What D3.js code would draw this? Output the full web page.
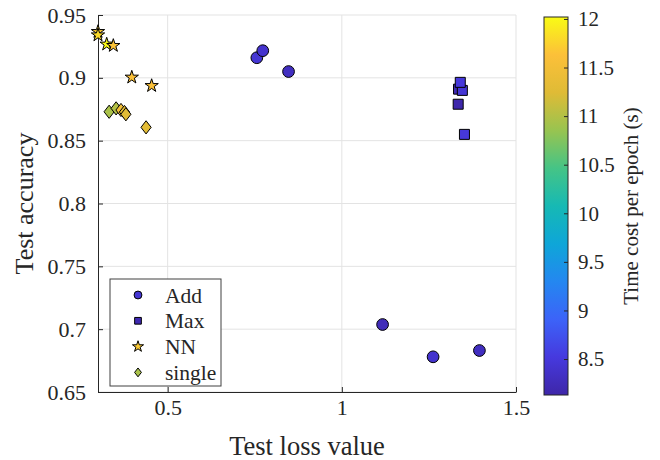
<!DOCTYPE html>
<html>
<head>
<meta charset="utf-8">
<script src="https://cdn.jsdelivr.net/npm/d3@7"></script>
<style>
  body { margin: 0; background: #fff; }
  svg text { font-family: "Liberation Serif", "Times New Roman", serif !important; fill: #262626; }
</style>
</head>
<body>
<div id="viz"></div>
<script>
const width = 660;
const height = 460;
const margin = {top: 15, right: 144, bottom: 68, left: 98};
const serif = '"Liberation Serif", "Times New Roman", serif';

// data: test loss, test accuracy, time per epoch (s)
const addLoss = [0.756, 0.773, 0.847, 1.117, 1.262, 1.395];
const addAcc  = [0.916, 0.9216, 0.905, 0.7037, 0.678, 0.683];
const addTime = [8.45, 8.4, 8.3, 8.25, 8.4, 8.3];

const maxLoss = [1.335, 1.346, 1.340, 1.334, 1.352];
const maxAcc  = [0.891, 0.890, 0.8964, 0.879, 0.855];
const maxTime = [8.2, 8.45, 8.5, 8.15, 8.5];

const nnLoss = [0.300, 0.300, 0.325, 0.344, 0.397, 0.454];
const nnAcc  = [0.9367, 0.934, 0.9267, 0.9256, 0.9004, 0.8937];
const nnTime = [11.7, 11.8, 12.0, 11.65, 11.6, 11.6];

const singleLoss = [0.332, 0.352, 0.366, 0.376, 0.380, 0.438];
const singleAcc  = [0.873, 0.8757, 0.8744, 0.8728, 0.871, 0.8606];
const singleTime = [10.95, 11.0, 11.5, 11.3, 11.25, 11.3];

const seriesNames = ['Add', 'Max', 'NN', 'single'];
const xTicks = [0.5, 1, 1.5];
const yTicks = [0.65, 0.7, 0.75, 0.8, 0.85, 0.9, 0.95];
const cTicks = [8.5, 9, 9.5, 10, 10.5, 11, 11.5, 12];
const timeRange = [8.13, 12.02];

// old-style parula stops
const parulaStops = ['#3e26a8', '#4639de', '#3c63f8', '#2487f0', '#0ea6d8',
                     '#16b9b4', '#45c486', '#98c450', '#dfbb36', '#fcc039', '#f9fb15'];
const parula = d3.scaleLinear()
  .domain(d3.range(parulaStops.length).map(i => i / (parulaStops.length - 1)))
  .range(parulaStops)
  .interpolate(d3.interpolateRgb);
const colorScale = t => parula((t - timeRange[0]) / (timeRange[1] - timeRange[0]));

// diamond = square turned 45deg, then stretched a bit vertically
const shapeTransform = name => name === 'single' ? ' scale(0.85,1.1) rotate(45)' : '';
const series = [
  {name: seriesNames[0], shape: d3.symbolCircle, size: 108, loss: addLoss, acc: addAcc, time: addTime},
  {name: seriesNames[1], shape: d3.symbolSquare, size: 100, loss: maxLoss, acc: maxAcc, time: maxTime},
  {name: seriesNames[2], shape: d3.symbolStar, size: 55, loss: nnLoss, acc: nnAcc, time: nnTime},
  {name: seriesNames[3], shape: d3.symbolSquare, size: 72, loss: singleLoss, acc: singleAcc, time: singleTime}
];

const points = [];
series.forEach(s => {
  s.loss.forEach((v, i) => points.push({series: s, loss: v, acc: s.acc[i], time: s.time[i]}));
});

const svg = d3.select('#viz')
  .append('svg')
    .attr('width', width)
    .attr('height', height)
    .attr('font-family', serif);

const xScale = d3.scaleLinear()
  .domain([0.3, 1.5])
  .range([margin.left, 516]);
const yScale = d3.scaleLinear()
  .domain([0.65, 0.95])
  .range([392, margin.top]);

// grid
svg.append('g')
  .selectAll('line')
  .data(xTicks)
  .join('line')
    .attr('x1', d => xScale(d)).attr('x2', d => xScale(d))
    .attr('y1', yScale(0.65)).attr('y2', yScale(0.95))
    .attr('stroke', '#e3e3e3');
svg.append('g')
  .selectAll('line')
  .data(yTicks)
  .join('line')
    .attr('x1', xScale(0.3)).attr('x2', xScale(1.5))
    .attr('y1', d => yScale(d)).attr('y2', d => yScale(d))
    .attr('stroke', '#e3e3e3');

// axes (MATLAB style: ticks inside)
const xAxis = d3.axisBottom(xScale).tickValues(xTicks).tickSizeInner(-5).tickSizeOuter(0)
  .tickPadding(20).tickFormat(d3.format('~g'));
const xAxisGroup = svg.append('g')
  .attr('transform', `translate(0,${yScale(0.65)})`)
  .call(xAxis);
const yAxis = d3.axisLeft(yScale).tickValues(yTicks).tickSizeInner(-5).tickSizeOuter(0)
  .tickPadding(12).tickFormat(d3.format('~g'));
const yAxisGroup = svg.append('g')
  .attr('transform', `translate(${xScale(0.3)},0)`)
  .call(yAxis);
[xAxisGroup, yAxisGroup].forEach(g => {
  g.attr('font-family', serif);
  g.select('.domain').attr('stroke', '#262626');
  g.selectAll('.tick line').attr('stroke', '#262626');
  g.selectAll('.tick text')
    .style('font-family', serif)
    .style('font-size', '22px')
    .attr('fill', '#262626');
});
xAxisGroup.selectAll('.tick text').attr('dy', '0.15em');

// axis titles
svg.append('text')
  .attr('x', (xScale(0.3) + xScale(1.5)) / 2)
  .attr('y', 455)
  .attr('text-anchor', 'middle')
  .style('font-family', serif)
  .style('font-size', '26.5px')
  .text('Test loss value');
svg.append('text')
  .attr('transform', `translate(33,${(yScale(0.65) + yScale(0.95)) / 2}) rotate(-90)`)
  .attr('text-anchor', 'middle')
  .style('font-family', serif)
  .style('font-size', '26px')
  .text('Test accuracy');

// points
svg.append('g')
  .attr('class', 'points')
  .selectAll('path')
  .data(points)
  .join('path')
    .attr('d', d => d3.symbol(d.series.shape, d.series.size)())
    .attr('transform', d => `translate(${xScale(d.loss)},${yScale(d.acc)})` + shapeTransform(d.series.name))
    .attr('fill', d => colorScale(d.time))
    .attr('stroke', '#000')
    .attr('stroke-width', 1)
    .attr('vector-effect', 'non-scaling-stroke');

// legend
const legend = svg.append('g')
  .attr('transform', 'translate(110,279)');
legend.append('rect')
  .attr('width', 111)
  .attr('height', 107)
  .attr('fill', '#fff')
  .attr('stroke', '#404040');
legend.selectAll('.entry')
  .data(series)
  .join('g')
    .attr('class', 'entry')
    .attr('transform', (d, i) => `translate(0,${16 + i * 25.8})`)
    .each(function(d) {
      const g = d3.select(this);
      g.append('path')
        .attr('d', d3.symbol(d.shape, d.size * (d.name === 'NN' ? 0.7 : 0.45))())
        .attr('transform', 'translate(28,0)' + shapeTransform(d.name))
        .attr('fill', colorScale(d.time[0]))
        .attr('stroke', '#000')
        .attr('vector-effect', 'non-scaling-stroke');
      g.append('text')
        .attr('x', 55)
        .attr('dy', '0.35em')
        .style('font-family', serif)
        .style('font-size', '21.5px')
        .text(d.name);
    });

// colorbar
const cb = {x: 544, w: 24, top: 17, bottom: 395};
const cScale = d3.scaleLinear().domain(timeRange).range([cb.bottom, cb.top]);
const defs = svg.append('defs');
const grad = defs.append('linearGradient')
  .attr('id', 'parula')
  .attr('x1', 0).attr('y1', 1).attr('x2', 0).attr('y2', 0);
grad.selectAll('stop')
  .data(parulaStops)
  .join('stop')
    .attr('offset', (d, i) => i / (parulaStops.length - 1))
    .attr('stop-color', d => d);
svg.append('rect')
  .attr('x', cb.x).attr('y', cb.top)
  .attr('width', cb.w).attr('height', cb.bottom - cb.top)
  .attr('fill', 'url(#parula)')
  .attr('stroke', '#262626');
const cAxis = d3.axisRight(cScale).tickValues(cTicks).tickSizeInner(-4).tickSizeOuter(0)
  .tickPadding(10).tickFormat(d3.format('~g'));
const cAxisGroup = svg.append('g')
  .attr('transform', `translate(${cb.x + cb.w},0)`)
  .call(cAxis);
cAxisGroup.attr('font-family', serif);
cAxisGroup.select('.domain').remove();
cAxisGroup.selectAll('.tick line').attr('stroke', '#262626');
cAxisGroup.selectAll('.tick text')
  .style('font-family', serif)
  .style('font-size', '21px')
  .attr('fill', '#262626');
svg.append('text')
  .attr('transform', `translate(638,${(cb.top + cb.bottom) / 2}) rotate(-90)`)
  .attr('text-anchor', 'middle')
  .style('font-family', serif)
  .style('font-size', '21px')
  .text('Time cost per epoch (s)');
</script>
</body>
</html>
